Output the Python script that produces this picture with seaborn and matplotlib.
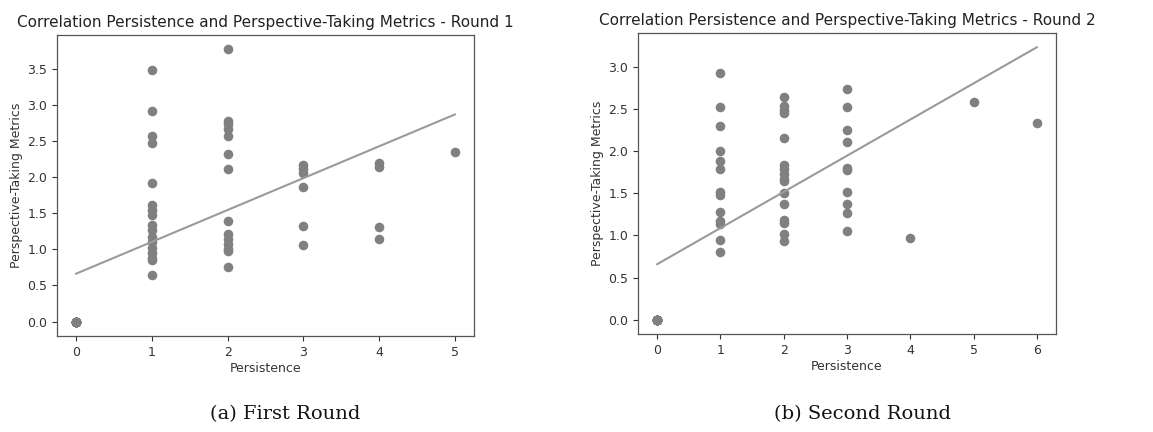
import numpy as np
import pandas as pd
import matplotlib
matplotlib.use("Agg")
import matplotlib.pyplot as plt
import seaborn as sns

# ---- Round 1 data (persistence, perspective-taking) ----
r1_x0 = [0] * 13
r1_y0 = [0.0] * 13
r1_x1 = [1] * 17
r1_y1 = [3.48, 2.92, 2.57, 2.48, 1.92, 1.61, 1.55, 1.48, 1.34, 1.27, 1.17, 1.10, 1.02, 0.95, 0.88, 0.85, 0.64]
r1_x2 = [2] * 14
r1_y2 = [3.78, 2.78, 2.74, 2.67, 2.57, 2.32, 2.12, 1.39, 1.21, 1.15, 1.08, 1.01, 0.98, 0.76]
r1_x3 = [3] * 6
r1_y3 = [2.17, 2.11, 2.06, 1.87, 1.33, 1.06]
r1_x4 = [4] * 4
r1_y4 = [2.19, 2.14, 1.31, 1.14]
r1_x5 = [5]
r1_y5 = [2.35]

# ---- Round 2 data ----
r2_x0 = [0] * 12
r2_y0 = [0.0] * 12
r2_x1 = [1] * 13
r2_y1 = [2.92, 2.52, 2.30, 2.00, 1.88, 1.79, 1.52, 1.48, 1.28, 1.17, 1.13, 0.95, 0.80]
r2_x2 = [2] * 16
r2_y2 = [2.64, 2.53, 2.49, 2.45, 2.15, 1.84, 1.79, 1.73, 1.67, 1.65, 1.50, 1.37, 1.18, 1.15, 1.02, 0.93]
r2_x3 = [3] * 10
r2_y3 = [2.73, 2.52, 2.25, 2.11, 1.80, 1.78, 1.52, 1.37, 1.26, 1.05]
r2_x4 = [4]
r2_y4 = [0.97]
r2_x5 = [5]
r2_y5 = [2.58]
r2_x6 = [6]
r2_y6 = [2.33]

titles = ["Correlation Persistence and Perspective-Taking Metrics - Round 1",
          "Correlation Persistence and Perspective-Taking Metrics - Round 2"]
captions = ["(a) First Round", "(b) Second Round"]
x_label = "Persistence"
y_label = "Perspective-Taking Metrics"

df1 = pd.DataFrame({
    "Persistence": r1_x0 + r1_x1 + r1_x2 + r1_x3 + r1_x4 + r1_x5,
    "PT": r1_y0 + r1_y1 + r1_y2 + r1_y3 + r1_y4 + r1_y5,
})
df2 = pd.DataFrame({
    "Persistence": r2_x0 + r2_x1 + r2_x2 + r2_x3 + r2_x4 + r2_x5 + r2_x6,
    "PT": r2_y0 + r2_y1 + r2_y2 + r2_y3 + r2_y4 + r2_y5 + r2_y6,
})

sns.set_style("white")
plt.rcParams["font.family"] = ["DejaVu Sans"]

fig = plt.figure(figsize=(11.53, 4.32), dpi=100)
W, H = 1153, 432
ax1 = fig.add_axes([57 / W, 1 - 336 / H, (474 - 57) / W, (336 - 35) / H])
ax2 = fig.add_axes([638 / W, 1 - 334 / H, (1056 - 638) / W, (334 - 33) / H])

dot_color = "#808080"
line_color = "#9a9a9a"

for ax, df, title in [(ax1, df1, titles[0]), (ax2, df2, titles[1])]:
    sns.regplot(data=df, x="Persistence", y="PT", ax=ax, ci=None, truncate=True,
                scatter_kws=dict(s=48, color=dot_color, alpha=1, linewidths=0),
                line_kws=dict(color=line_color, linewidth=1.5))
    ax.set_title(title, fontsize=11, color="#222222", pad=6)
    ax.set_xlabel(x_label, fontsize=9, color="#333333", labelpad=2)
    ax.set_ylabel(y_label, fontsize=9, color="#333333", labelpad=3)
    ax.tick_params(axis="both", labelsize=9, colors="#333333", length=3.5,
                   width=0.8, direction="out", bottom=True, left=True)
    for sp in ax.spines.values():
        sp.set_color("#555555")
        sp.set_linewidth(0.9)

ax1.set_xticks([0, 1, 2, 3, 4, 5])
ax1.set_yticks([0.0, 0.5, 1.0, 1.5, 2.0, 2.5, 3.0, 3.5])
ax1.set_yticklabels(["0.0", "0.5", "1.0", "1.5", "2.0", "2.5", "3.0", "3.5"])
ax1.set_xlim(-0.25, 5.25)
ax1.set_ylim(-0.2, 3.97)

ax2.set_xticks([0, 1, 2, 3, 4, 5, 6])
ax2.set_yticks([0.0, 0.5, 1.0, 1.5, 2.0, 2.5, 3.0])
ax2.set_yticklabels(["0.0", "0.5", "1.0", "1.5", "2.0", "2.5", "3.0"])
ax2.set_xlim(-0.3, 6.3)
ax2.set_ylim(-0.17, 3.4)

fig.text(285 / W, 1 - 414 / H, captions[0], ha="center", va="center",
         fontsize=14, family="DejaVu Serif", color="#111111")
fig.text(863 / W, 1 - 414 / H, captions[1], ha="center", va="center",
         fontsize=14, family="DejaVu Serif", color="#111111")

fig.savefig("out.png", dpi=100, facecolor="white")
